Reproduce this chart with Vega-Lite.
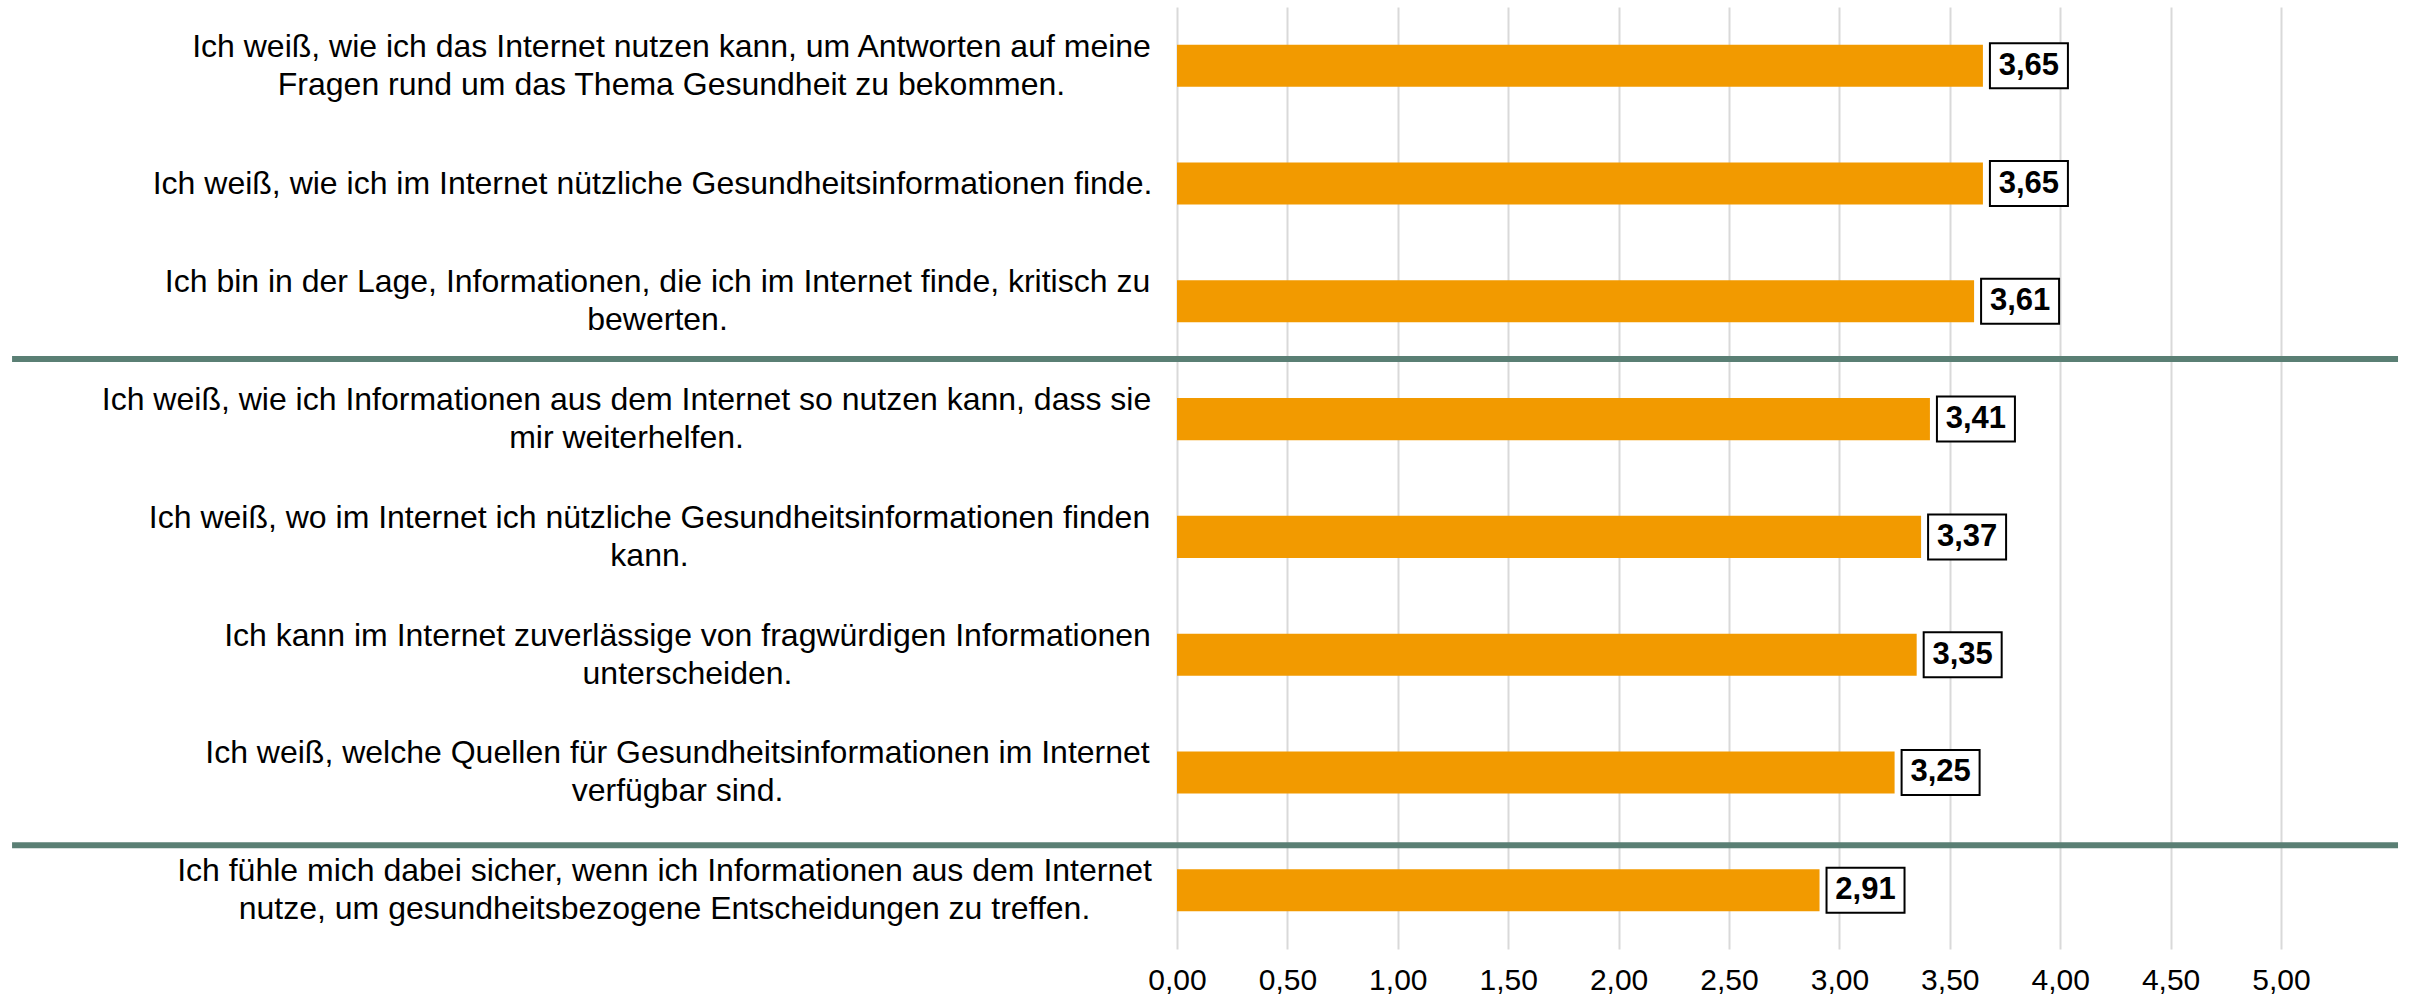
{
  "$schema": "https://vega.github.io/schema/vega-lite/v6.json",
  "width": 1104,
  "height": 942,
  "autosize": {"type": "none"},
  "padding": {"left": 1177, "top": 7, "right": 129, "bottom": 54},
  "background": "white",
  "config": {
    "view": {"stroke": null},
    "font": "Liberation Sans",
    "locale": {"number": {"decimal": ",", "thousands": ".", "grouping": [3], "currency": ["", " €"]}}
  },
  "data": {
    "values": [
      {"item": "Ich weiß, wie ich das Internet nutzen kann, um Antworten auf meine|Fragen rund um das Thema Gesundheit zu bekommen.", "value": 3.65, "group": 1, "groupStart": false},
      {"item": "Ich weiß, wie ich im Internet nützliche Gesundheitsinformationen finde.", "value": 3.65, "group": 1, "groupStart": false},
      {"item": "Ich bin in der Lage, Informationen, die ich im Internet finde, kritisch zu|bewerten.", "value": 3.61, "group": 1, "groupStart": false},
      {"item": "Ich weiß, wie ich Informationen aus dem Internet so nutzen kann, dass sie|mir weiterhelfen.", "value": 3.41, "group": 2, "groupStart": true},
      {"item": "Ich weiß, wo im Internet ich nützliche Gesundheitsinformationen finden|kann.", "value": 3.37, "group": 2, "groupStart": false},
      {"item": "Ich kann im Internet zuverlässige von fragwürdigen Informationen|unterscheiden.", "value": 3.35, "group": 2, "groupStart": false},
      {"item": "Ich weiß, welche Quellen für Gesundheitsinformationen im Internet|verfügbar sind.", "value": 3.25, "group": 2, "groupStart": false},
      {"item": "Ich fühle mich dabei sicher, wenn ich Informationen aus dem Internet|nutze, um gesundheitsbezogene Entscheidungen zu treffen.", "value": 2.91, "group": 3, "groupStart": true}
    ]
  },
  "encoding": {
    "y": {
      "field": "item",
      "type": "nominal",
      "sort": null,
      "scale": {"paddingInner": 0.643, "paddingOuter": 0.32},
      "axis": {
        "title": null,
        "domain": false,
        "ticks": false,
        "grid": false,
        "labelExpr": "split(datum.label, '|')",
        "labelAlign": "center",
        "labelBaseline": "middle",
        "labelOffset": {"condition": {"test": "indexof(datum.value, '|') >= 0", "value": -19}, "value": 0},
        "labelPadding": {
          "condition": [
            {"test": "indexof(datum.value, 'Antworten') >= 0", "value": 506},
            {"test": "indexof(datum.value, 'finde.') >= 0", "value": 525},
            {"test": "indexof(datum.value, 'kritisch') >= 0", "value": 520},
            {"test": "indexof(datum.value, 'weiterhelfen') >= 0", "value": 551},
            {"test": "indexof(datum.value, 'finden|') >= 0", "value": 528},
            {"test": "indexof(datum.value, 'fragwürdigen') >= 0", "value": 490},
            {"test": "indexof(datum.value, 'Quellen') >= 0", "value": 500}
          ],
          "value": 513
        },
        "labelFont": "Liberation Sans",
        "labelFontSize": 32,
        "labelLineHeight": 38,
        "labelColor": "#000000",
        "labelLimit": 0
      }
    }
  },
  "layer": [
    {
      "mark": {"type": "bar", "color": "#F29A00"},
      "encoding": {
        "x": {
          "field": "value",
          "type": "quantitative",
          "scale": {"domain": [0, 5], "nice": false, "zero": true},
          "axis": {
            "title": null,
            "values": [0, 0.5, 1, 1.5, 2, 2.5, 3, 3.5, 4, 4.5, 5],
            "format": ".2f",
            "domain": false,
            "ticks": false,
            "grid": true,
            "gridColor": "#D9D9D9",
            "gridWidth": 2,
            "labelFont": "Liberation Sans",
            "labelFontSize": 30,
            "labelColor": "#000000",
            "labelPadding": 16,
            "labelFlush": false,
            "labelOverlap": false
          }
        }
      }
    },
    {
      "transform": [{"filter": "datum.groupStart && datum.group == 2"}],
      "mark": {"type": "rule", "color": "#5A7F74", "strokeWidth": 6, "yOffset": -39, "clip": false},
      "encoding": {
        "x": {"datum": -5.276, "type": "quantitative"},
        "x2": {"datum": 5.53},
        "y": {"field": "item", "type": "nominal", "sort": null, "bandPosition": 0}
      }
    },
    {
      "transform": [{"filter": "datum.groupStart && datum.group == 3"}],
      "mark": {"type": "rule", "color": "#5A7F74", "strokeWidth": 6, "yOffset": -24, "clip": false},
      "encoding": {
        "x": {"datum": -5.276, "type": "quantitative"},
        "x2": {"datum": 5.53},
        "y": {"field": "item", "type": "nominal", "sort": null, "bandPosition": 0}
      }
    },
    {
      "mark": {
        "type": "point",
        "shape": "M-1,-0.577H1V0.577H-1Z",
        "size": 6084,
        "filled": false,
        "fill": "#FFFFFF",
        "fillOpacity": 1,
        "stroke": "#000000",
        "strokeWidth": 2,
        "opacity": 1,
        "xOffset": 46
      },
      "encoding": {
        "x": {"field": "value", "type": "quantitative"}
      }
    },
    {
      "mark": {
        "type": "text",
        "align": "center",
        "baseline": "middle",
        "dx": 46,
        "font": "Liberation Sans",
        "fontSize": 31,
        "fontWeight": "bold",
        "color": "#000000"
      },
      "encoding": {
        "x": {"field": "value", "type": "quantitative"},
        "text": {"field": "value", "type": "quantitative", "format": ".2f"}
      }
    }
  ]
}
